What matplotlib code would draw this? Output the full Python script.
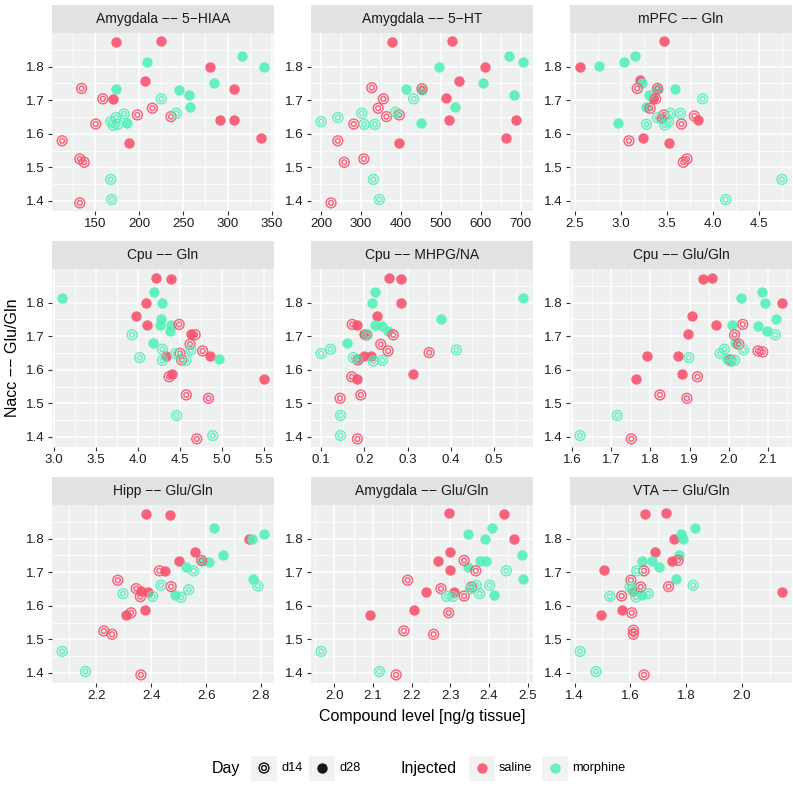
import matplotlib
matplotlib.use("Agg")
import matplotlib.pyplot as plt
from matplotlib.patches import Rectangle

# ---------------- data (x = compound level, y = Nacc Glu/Gln) ----------------
# Amygdala -- 5-HIAA
amy_5hiaa_sal28 = [(174,1.873),(225,1.875),(280,1.798),(207,1.758),(307,1.733),(171,1.703),(291,1.642),(307,1.640),(338,1.587),(189,1.572)]
amy_5hiaa_mor28 = [(316,1.831),(209,1.813),(341,1.800),(285,1.752),(174,1.733),(245,1.730),(256,1.715),(257,1.679),(186,1.631)]
amy_5hiaa_sal14 = [(135,1.735),(159,1.704),(215,1.676),(198,1.656),(236,1.651),(151,1.629),(113,1.579),(133,1.525),(138,1.515),(133,1.394)]
amy_5hiaa_mor14 = [(225,1.704),(242,1.661),(183,1.659),(174,1.648),(168,1.636),(176,1.628),(171,1.625),(168,1.464),(169,1.404)]
# Amygdala -- 5-HT
amy_5ht_sal28 = [(378,1.873),(527,1.875),(610,1.798),(546,1.758),(512,1.705),(521,1.642),(688,1.640),(664,1.587),(395,1.572)]
amy_5ht_mor28 = [(672,1.831),(706,1.813),(495,1.800),(606,1.752),(414,1.733),(453,1.730),(683,1.715),(535,1.679),(450,1.631)]
amy_5ht_sal14 = [(327,1.737),(453,1.734),(356,1.704),(343,1.676),(364,1.651),(396,1.656),(282,1.629),(242,1.579),(307,1.525),(258,1.515),(225,1.394)]
amy_5ht_mor14 = [(200,1.636),(242,1.648),(302,1.661),(308,1.628),(335,1.628),(387,1.664),(432,1.704),(331,1.464),(346,1.404)]
# mPFC -- Gln
mpfc_gln_sal28 = [(3.47,1.875),(2.56,1.798),(3.21,1.760),(3.35,1.705),(3.44,1.646),(3.84,1.642),(3.245,1.587),(3.53,1.572)]
mpfc_gln_mor28 = [(3.16,1.831),(3.04,1.815),(2.77,1.802),(3.23,1.752),(3.41,1.733),(3.59,1.733),(3.31,1.716),(3.28,1.679),(2.97,1.631)]
mpfc_gln_sal14 = [(3.18,1.735),(3.40,1.735),(3.38,1.704),(3.32,1.676),(3.80,1.653),(3.47,1.656),(3.66,1.629),(3.09,1.579),(3.68,1.515),(3.72,1.525)]
mpfc_gln_mor14 = [(3.89,1.704),(3.65,1.661),(3.54,1.661),(3.40,1.648),(3.48,1.626),(3.52,1.636),(3.28,1.628),(4.75,1.464),(4.14,1.404)]
# Cpu -- Gln
cpu_gln_sal28 = [(4.21,1.873),(4.39,1.871),(4.095,1.798),(3.97,1.760),(4.11,1.733),(4.63,1.705),(4.33,1.642),(4.86,1.642),(4.41,1.588),(5.50,1.572)]
cpu_gln_mor28 = [(4.19,1.831),(3.095,1.813),(4.29,1.800),(4.27,1.752),(4.26,1.733),(4.39,1.733),(4.385,1.716),(4.18,1.679),(4.96,1.631)]
cpu_gln_sal14 = [(4.49,1.735),(4.68,1.704),(4.62,1.676),(4.77,1.656),(4.50,1.649),(4.52,1.629),(4.37,1.579),(4.575,1.525),(4.84,1.515),(4.70,1.394)]
cpu_gln_mor14 = [(3.93,1.704),(4.29,1.661),(4.63,1.659),(4.45,1.648),(4.02,1.636),(4.29,1.628),(4.57,1.628),(4.46,1.464),(4.89,1.404)]
# Cpu -- MHPG/NA
cpu_mhpg_sal28 = [(0.258,1.873),(0.285,1.871),(0.285,1.798),(0.230,1.760),(0.184,1.733),(0.199,1.705),(0.200,1.642),(0.216,1.640),(0.313,1.587),(0.184,1.572)]
cpu_mhpg_mor28 = [(0.225,1.831),(0.567,1.813),(0.218,1.800),(0.378,1.752),(0.225,1.733),(0.240,1.730),(0.254,1.715),(0.159,1.679),(0.185,1.631)]
cpu_mhpg_sal14 = [(0.172,1.735),(0.267,1.704),(0.204,1.704),(0.238,1.676),(0.255,1.656),(0.350,1.651),(0.185,1.629),(0.171,1.579),(0.192,1.525),(0.144,1.515),(0.184,1.394)]
cpu_mhpg_mor14 = [(0.207,1.704),(0.100,1.648),(0.122,1.661),(0.413,1.659),(0.175,1.636),(0.221,1.626),(0.242,1.628),(0.145,1.464),(0.145,1.404)]
# Cpu -- Glu/Gln
cpu_glu_sal28 = [(1.934,1.871),(1.957,1.873),(2.136,1.798),(1.907,1.760),(1.968,1.733),(1.897,1.705),(1.790,1.642),(1.871,1.640),(1.880,1.587),(1.762,1.572)]
cpu_glu_mor28 = [(2.084,1.831),(2.031,1.813),(2.093,1.800),(2.120,1.752),(2.009,1.733),(2.075,1.730),(2.097,1.715),(2.015,1.679),(1.995,1.631)]
cpu_glu_sal14 = [(2.036,1.735),(2.015,1.704),(2.026,1.676),(2.075,1.656),(2.087,1.653),(2.005,1.629),(1.920,1.579),(1.824,1.525),(1.893,1.515),(1.751,1.394)]
cpu_glu_mor14 = [(2.119,1.704),(1.989,1.661),(1.978,1.648),(2.038,1.659),(1.898,1.636),(2.015,1.628),(2.005,1.625),(1.715,1.464),(1.620,1.404)]
# Hipp -- Glu/Gln
hipp_glu_sal28 = [(2.382,1.872),(2.469,1.871),(2.755,1.798),(2.558,1.759),(2.500,1.733),(2.451,1.704),(2.362,1.643),(2.387,1.641),(2.376,1.587),(2.307,1.572)]
hipp_glu_mor28 = [(2.630,1.831),(2.810,1.813),(2.768,1.800),(2.660,1.752),(2.610,1.731),(2.583,1.733),(2.527,1.715),(2.772,1.679),(2.487,1.631)]
hipp_glu_sal14 = [(2.583,1.735),(2.429,1.704),(2.278,1.676),(2.472,1.657),(2.345,1.651),(2.360,1.627),(2.326,1.579),(2.227,1.525),(2.257,1.515),(2.362,1.394)]
hipp_glu_mor14 = [(2.554,1.704),(2.435,1.661),(2.788,1.659),(2.536,1.648),(2.297,1.636),(2.405,1.628),(2.508,1.625),(2.075,1.464),(2.160,1.404)]
# Amygdala -- Glu/Gln
amy_glu_sal28 = [(2.297,1.876),(2.440,1.873),(2.466,1.798),(2.300,1.760),(2.268,1.733),(2.300,1.705),(2.309,1.642),(2.237,1.642),(2.207,1.587),(2.093,1.572)]
amy_glu_mor28 = [(2.407,1.831),(2.346,1.813),(2.390,1.800),(2.485,1.752),(2.378,1.733),(2.393,1.733),(2.347,1.715),(2.488,1.679),(2.412,1.631)]
amy_glu_sal14 = [(2.336,1.735),(2.366,1.704),(2.190,1.676),(2.276,1.651),(2.355,1.656),(2.336,1.629),(2.296,1.579),(2.180,1.525),(2.257,1.515),(2.160,1.394)]
amy_glu_mor14 = [(2.445,1.704),(2.402,1.661),(2.367,1.661),(2.353,1.651),(2.376,1.636),(2.307,1.628),(2.291,1.628),(1.966,1.464),(2.117,1.404)]
# VTA -- Glu/Gln
vta_glu_sal28 = [(1.654,1.873),(1.726,1.876),(1.756,1.798),(1.688,1.760),(1.751,1.733),(1.504,1.705),(1.610,1.643),(2.143,1.642),(1.569,1.587),(1.495,1.572)]
vta_glu_mor28 = [(1.831,1.831),(1.783,1.813),(1.789,1.800),(1.773,1.752),(1.642,1.733),(1.677,1.733),(1.704,1.716),(1.763,1.679),(1.640,1.631)]
vta_glu_sal14 = [(1.771,1.735),(1.649,1.704),(1.602,1.676),(1.637,1.656),(1.737,1.657),(1.569,1.629),(1.605,1.579),(1.611,1.527),(1.611,1.515),(1.649,1.394)]
vta_glu_mor14 = [(1.623,1.704),(1.825,1.661),(1.599,1.656),(1.608,1.648),(1.664,1.636),(1.620,1.626),(1.527,1.628),(1.420,1.464),(1.477,1.404)]

panel_titles = ["Amygdala \u2212\u2212 5\u2212HIAA", "Amygdala \u2212\u2212 5\u2212HT", "mPFC \u2212\u2212 Gln",
                "Cpu \u2212\u2212 Gln", "Cpu \u2212\u2212 MHPG/NA", "Cpu \u2212\u2212 Glu/Gln",
                "Hipp \u2212\u2212 Glu/Gln", "Amygdala \u2212\u2212 Glu/Gln", "VTA \u2212\u2212 Glu/Gln"]
panel_data = [
    (amy_5hiaa_sal28, amy_5hiaa_mor28, amy_5hiaa_sal14, amy_5hiaa_mor14),
    (amy_5ht_sal28, amy_5ht_mor28, amy_5ht_sal14, amy_5ht_mor14),
    (mpfc_gln_sal28, mpfc_gln_mor28, mpfc_gln_sal14, mpfc_gln_mor14),
    (cpu_gln_sal28, cpu_gln_mor28, cpu_gln_sal14, cpu_gln_mor14),
    (cpu_mhpg_sal28, cpu_mhpg_mor28, cpu_mhpg_sal14, cpu_mhpg_mor14),
    (cpu_glu_sal28, cpu_glu_mor28, cpu_glu_sal14, cpu_glu_mor14),
    (hipp_glu_sal28, hipp_glu_mor28, hipp_glu_sal14, hipp_glu_mor14),
    (amy_glu_sal28, amy_glu_mor28, amy_glu_sal14, amy_glu_mor14),
    (vta_glu_sal28, vta_glu_mor28, vta_glu_sal14, vta_glu_mor14),
]
x_ticks = [
    [150, 200, 250, 300, 350],
    [200, 300, 400, 500, 600, 700],
    [2.5, 3.0, 3.5, 4.0, 4.5],
    [3.0, 3.5, 4.0, 4.5, 5.0, 5.5],
    [0.1, 0.2, 0.3, 0.4, 0.5],
    [1.6, 1.7, 1.8, 1.9, 2.0, 2.1],
    [2.2, 2.4, 2.6, 2.8],
    [2.0, 2.1, 2.2, 2.3, 2.4, 2.5],
    [1.4, 1.6, 1.8, 2.0],
]
x_tick_fmt = ["{:.0f}", "{:.0f}", "{:.1f}", "{:.1f}", "{:.1f}", "{:.1f}", "{:.1f}", "{:.1f}", "{:.1f}"]
y_ticks = [1.4, 1.5, 1.6, 1.7, 1.8]
day_labels = ["d14", "d28"]
injected_labels = ["saline", "morphine"]

# ---------------- style ----------------
plt.rcParams['font.family'] = ['Liberation Sans', 'DejaVu Sans']
C_SAL = '#F7546D'
C_MOR = '#55F0BA'
PANEL_BG = '#EEEFEF'
STRIP_BG = '#E1E2E2'
ALPHA = 0.9
S_FILL = 56
S_OUT, S_IN = 50, 12

W, H = 793, 791
fig = plt.figure(figsize=(W / 100, H / 100), dpi=100)
fig.patch.set_facecolor('white')

col_left = [52, 311, 570]
row_top = [33, 269, 505]
pw, ph, sh = 222, 178, 28

all_y = [p[1] for grp in panel_data for g in grp for p in g]
ymin, ymax = min(all_y), max(all_y)
yr = ymax - ymin
ylim = (ymin - 0.05 * yr, ymax + 0.05 * yr)


def filled(ax, xs, ys, color, z=3):
    ax.scatter(xs, ys, s=S_FILL, color=color, alpha=ALPHA, linewidths=0, zorder=z)


def ring(ax, xs, ys, color, z=4):
    ax.scatter(xs, ys, s=S_OUT, facecolors='none', edgecolors=color, alpha=ALPHA, linewidths=1.05, zorder=z)
    ax.scatter(xs, ys, s=S_IN, facecolors='none', edgecolors=color, alpha=ALPHA, linewidths=1.05, zorder=z)


for i, (title, grp) in enumerate(zip(panel_titles, panel_data)):
    r, c = divmod(i, 3)
    left, top = col_left[c], row_top[r]
    ax = fig.add_axes([left / W, 1 - (top + ph) / H, pw / W, ph / H])
    ax.set_facecolor(PANEL_BG)
    xs_all = [p[0] for g in grp for p in g]
    xmin, xmax = min(xs_all), max(xs_all)
    xr = xmax - xmin
    xt = x_ticks[i]
    step = xt[1] - xt[0]
    ax.set_xticks(xt)
    ax.set_xticklabels([x_tick_fmt[i].format(v) for v in xt])
    ax.set_xticks([xt[0] - step / 2] + [v + step / 2 for v in xt], minor=True)
    ax.set_yticks(y_ticks)
    ax.set_yticklabels(["{:.1f}".format(v) for v in y_ticks])
    ax.set_yticks([1.35] + [v + 0.05 for v in y_ticks], minor=True)
    ax.set_xlim(xmin - 0.05 * xr, xmax + 0.05 * xr)
    ax.set_ylim(*ylim)
    ax.grid(which='major', color='white', lw=1.1, zorder=0)
    ax.grid(which='minor', color='white', lw=0.55, zorder=0)
    ax.set_axisbelow(True)
    for sp in ax.spines.values():
        sp.set_visible(False)
    ax.tick_params(which='major', length=3, width=0.8, color='#333333', labelsize=9.6,
                   labelcolor='#1E1E1E', pad=2)
    ax.tick_params(which='minor', length=0)

    sal28, mor28, sal14, mor14 = grp
    filled(ax, [p[0] for p in sal28], [p[1] for p in sal28], C_SAL)
    filled(ax, [p[0] for p in mor28], [p[1] for p in mor28], C_MOR)
    ring(ax, [p[0] for p in sal14], [p[1] for p in sal14], C_SAL)
    ring(ax, [p[0] for p in mor14], [p[1] for p in mor14], C_MOR)

    # strip
    fig.add_artist(Rectangle((left / W, 1 - top / H), pw / W, sh / H, transform=fig.transFigure,
                             facecolor=STRIP_BG, edgecolor='none', zorder=1))
    fig.text((left + pw / 2) / W, 1 - (top - sh / 2) / H, title, ha='center', va='center',
             fontsize=10, color='#1A1A1A')

# axis titles
fig.text((col_left[0] + col_left[2] + pw) / 2 / W, 1 - 717 / H, "Compound level [ng/g tissue]",
         ha='center', va='center', fontsize=11.5, color='black')
fig.text(13 / W, 1 - 358 / H, "Nacc \u2212\u2212 Glu/Gln", ha='center', va='center', rotation=90,
         fontsize=11.5, color='black')

# legend (drawn in pixel coordinates)
lax = fig.add_axes([0, 0, 1, 1], zorder=5)
lax.set_xlim(0, W); lax.set_ylim(H, 0); lax.axis('off')
ly = 768
lax.text(212, ly, "Day", ha='left', va='center', fontsize=11.5)
for bx in (251, 309, 469, 542):
    lax.add_patch(Rectangle((bx, ly - 12.5), 26, 25, facecolor='#F2F2F2', edgecolor='none'))
ring(lax, [264], [ly], 'black', z=6)
filled(lax, [322], [ly], 'black', z=6)
lax.text(281, ly, day_labels[0], ha='left', va='center', fontsize=9.2)
lax.text(339, ly, day_labels[1], ha='left', va='center', fontsize=9.2)
lax.text(400, ly, "Injected", ha='left', va='center', fontsize=11.5)
filled(lax, [482], [ly], C_SAL, z=6)
filled(lax, [555], [ly], C_MOR, z=6)
lax.text(499, ly, injected_labels[0], ha='left', va='center', fontsize=9.2)
lax.text(572, ly, injected_labels[1], ha='left', va='center', fontsize=9.2)

fig.savefig("out.png", dpi=100, facecolor='white')
